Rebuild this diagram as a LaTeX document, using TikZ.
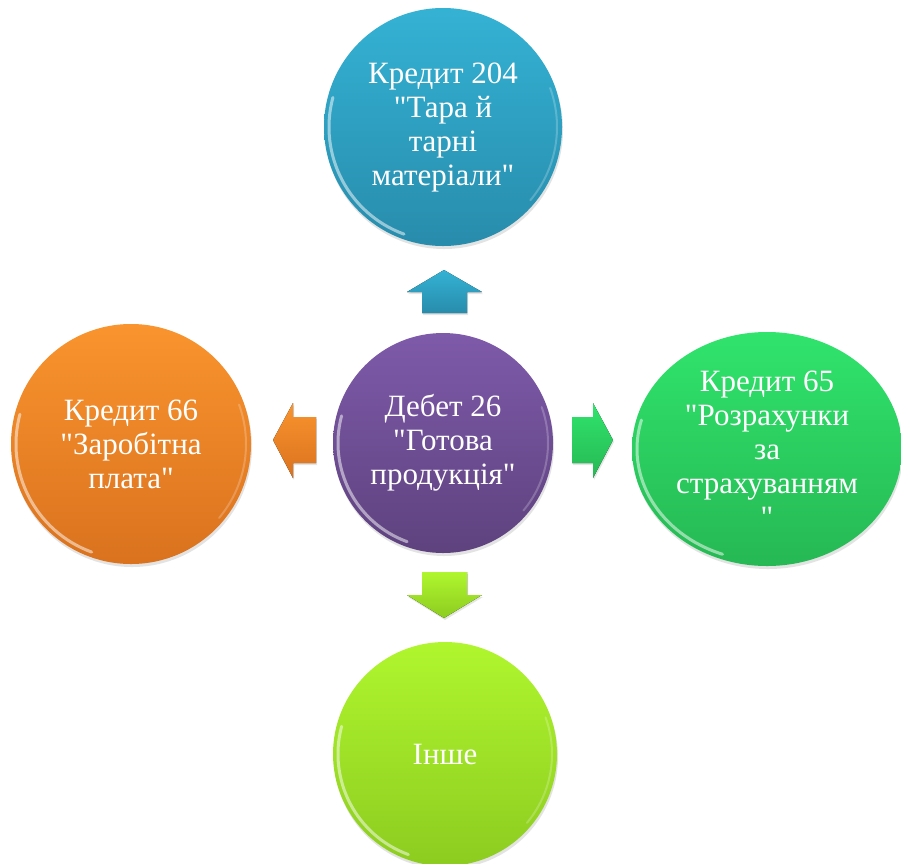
\documentclass[tikz,border=0pt]{standalone}
\usepackage{fontspec}
\setmainfont{Liberation Serif}[Ligatures=TeXOff]
\usetikzlibrary{shapes.geometric,shadows}
\definecolor{tealT}{RGB}{52,178,212}
\definecolor{tealB}{RGB}{40,140,172}
\definecolor{purpT}{RGB}{126,90,170}
\definecolor{purpB}{RGB}{94,66,126}
\definecolor{orT}{RGB}{249,148,46}
\definecolor{orB}{RGB}{218,114,30}
\definecolor{grT}{RGB}{48,228,108}
\definecolor{grB}{RGB}{38,184,84}
\definecolor{liT}{RGB}{176,246,46}
\definecolor{liB}{RGB}{140,204,32}
\tikzset{
  bubble/.style={circle, inner sep=0pt, text=white, align=center,
    font=\fontsize{31}{34}\selectfont,
    drop shadow={opacity=0.22, shadow xshift=1pt, shadow yshift=-3pt}},
  blockarrow/.style={drop shadow={opacity=0.2, shadow xshift=1pt, shadow yshift=-2pt}},
  gloss/.style={white, opacity=0.5, line width=3pt, line cap=round},
  glossb/.style={white, opacity=0.22, line width=2pt, line cap=round}
}
\begin{document}
\begin{tikzpicture}[x=1pt,y=1pt]
\clip (0,0) rectangle (901,-863);
\fill[white] (0,0) rectangle (901,-863);

% nodes
\node[bubble, minimum size=238pt, top color=tealT, bottom color=tealB] (top) at (443,-127)
  {Кредит 204\\"Тара й\\тарні\\матеріали"};
\node[bubble, minimum size=220pt, top color=purpT, bottom color=purpB] (mid) at (443,-443)
  {Дебет 26\\"Готова\\продукція"};
\node[bubble, minimum size=240pt, top color=orT, bottom color=orB] (left) at (131,-444)
  {Кредит 66\\"Заробітна\\плата"};
\node[bubble, ellipse, minimum width=270pt, minimum height=234pt, top color=grT, bottom color=grB] (right) at (767,-449)
  {Кредит 65\\"Розрахунки\\за\\страхуванням\\"};
\node[bubble, minimum size=224pt, top color=liT, bottom color=liB] (bot) at (445,-754)
  {Інше};

% gloss highlights
\draw[gloss] (top.center) ++(165:114) arc[start angle=165, end angle=250, radius=114];
\draw[glossb] (top.center) ++(20:114) arc[start angle=20, end angle=-40, radius=114];
\draw[gloss] (mid.center) ++(165:105) arc[start angle=165, end angle=250, radius=105];
\draw[glossb] (mid.center) ++(20:105) arc[start angle=20, end angle=-40, radius=105];
\draw[gloss] (left.center) ++(165:115) arc[start angle=165, end angle=250, radius=115];
\draw[glossb] (left.center) ++(20:115) arc[start angle=20, end angle=-40, radius=115];
\draw[gloss] (bot.center) ++(165:107) arc[start angle=165, end angle=250, radius=107];
\draw[glossb] (bot.center) ++(20:107) arc[start angle=20, end angle=-40, radius=107];
\draw[gloss] (right.center) ++(165:130 and 112) arc[start angle=165, end angle=250, x radius=130, y radius=112];

% block arrows
\fill[blockarrow, top color=tealT, bottom color=tealB]
  (422,-313) -- (422,-292) -- (407,-292) -- (444,-270) -- (482,-292) -- (467,-292) -- (467,-313) -- cycle;
\fill[blockarrow, top color=liT, bottom color=liB]
  (422,-572) -- (467,-572) -- (467,-595) -- (482,-595) -- (444,-618) -- (407,-595) -- (422,-595) -- cycle;
\fill[blockarrow, top color=orT, bottom color=orB]
  (316,-417) -- (293,-417) -- (293,-403) -- (273,-440) -- (293,-478) -- (293,-463) -- (316,-463) -- cycle;
\fill[blockarrow, top color=grT, bottom color=grB]
  (572,-417) -- (593,-417) -- (593,-403) -- (613,-440) -- (593,-478) -- (593,-463) -- (572,-463) -- cycle;
\end{tikzpicture}
\end{document}
